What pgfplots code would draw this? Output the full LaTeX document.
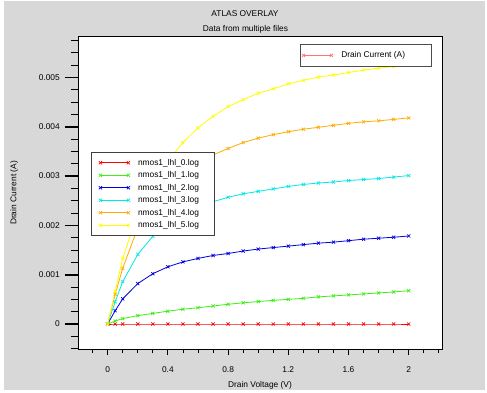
\documentclass[border=0pt]{standalone}
\usepackage{pgfplots}
\usepackage{pgfplotstable}
\pgfplotsset{compat=1.18}
\usepackage{fontspec}
\setmainfont{Liberation Sans}
\definecolor{bg}{RGB}{216,216,216}
\definecolor{cRed}{RGB}{255,0,0}
\definecolor{cGreen}{RGB}{60,240,20}
\definecolor{cBlue}{RGB}{0,0,225}
\definecolor{cCyan}{RGB}{0,232,232}
\definecolor{cOrange}{RGB}{255,172,0}
\definecolor{cYellow}{RGB}{255,252,0}

\pgfplotstableread{
x    red green    blue     cyan    orange  yellow
0    0   0        0        0       0       0
0.05 0   0.00006  0.00027  0.00045 0.00060 0.00066
0.1  0   0.00011  0.00051  0.00086 0.00113 0.00133
0.2  0   0.00017  0.00082  0.00141 0.00195 0.00225
0.3  0   0.000215 0.00102  0.00178 0.00250 0.00285
0.4  0   0.00026  0.00116  0.00205 0.00288 0.00330
0.5  0   0.00030  0.00126  0.00224 0.00313 0.00368
0.6  0   0.00033  0.00133  0.00238 0.00330 0.00398
0.7  0   0.000365 0.00139  0.00248 0.00343 0.00421
0.8  0   0.00040  0.00143  0.00257 0.00356 0.00441
0.9  0   0.00043  0.00148  0.00264 0.00368 0.00455
1.0  0   0.000455 0.00152  0.00269 0.00377 0.00468
1.1  0   0.00048  0.00155  0.00274 0.00384 0.00477
1.2  0   0.00050  0.00158  0.00279 0.00390 0.00487
1.3  0   0.00052  0.00161  0.00283 0.00395 0.00494
1.4  0   0.00055  0.00164  0.00286 0.00399 0.00501
1.5  0   0.00057  0.00166  0.00288 0.00403 0.00505
1.6  0   0.00059  0.00169  0.00291 0.00407 0.00510
1.7  0   0.00061  0.00172  0.00293 0.00410 0.00515
1.8  0   0.00063  0.00174  0.00295 0.00412 0.00519
1.9  0   0.00065  0.00176  0.00298 0.00415 0.00522
2.0  0   0.000675 0.001785 0.00301 0.00418 0.00525
}\iv

\begin{document}
\begin{tikzpicture}[x=1bp,y=1bp,font=\fontsize{8.4}{10}\selectfont]
\path[use as bounding box] (0,0) rectangle (487,392);
\fill[bg] (4,2) rectangle (485,391);
\node[anchor=base] at (245,375.7) {ATLAS OVERLAY};
\node[anchor=base] at (245.5,360.7) {Data from multiple files};

\pgfplotsset{
  myframe/.style={
    at={(78bp,43bp)}, anchor=south west, scale only axis,
    width=364bp, height=312bp,
    xmin=-0.197, xmax=2.221, ymin=-0.000507, ymax=0.005821,
    scaled x ticks=false, scaled y ticks=false,
    axis line style={black, line width=1bp},
    tick align=outside, tick pos=left,
    legend image code/.code={\draw[##1] plot coordinates {(0bp,0bp) (28bp,0bp)};},
  },
  curve/.style={line width=0.8bp, mark=x, mark size=2.2bp, mark options={solid, line width=0.7bp}},
}

\begin{axis}[
  myframe,
  axis background/.style={fill=white},
  xtick=\empty,
  ytick={0,0.001,0.002,0.003,0.004,0.005},
  yticklabels={0,0.001,0.002,0.003,0.004,0.005},
  minor ytick={-0.0005,-0.00025,0,0.00025,0.0005,0.00075,0.001,0.00125,0.0015,0.00175,0.002,0.00225,0.0025,0.00275,0.003,0.00325,0.0035,0.00375,0.004,0.00425,0.0045,0.00475,0.005,0.00525,0.0055,0.00575},
  major tick length=13bp, minor tick length=7bp,
  major tick style={black, line width=1.6bp},
  minor tick style={black, line width=0.8bp},
  yticklabel style={inner xsep=0pt, xshift=-5bp},
  ylabel={Drain Current (A)},
  ylabel style={at={(axis description cs:-0.1695,0.5)}, anchor=base},
  legend style={at={(0.0357,0.631)}, anchor=north west, draw=black!75, line width=0.8bp,
    fill=white, inner xsep=7.5bp, inner ysep=4bp, row sep=0pt,
    nodes={inner xsep=0pt, inner ysep=1.5bp, text height=7bp, text depth=2.5bp},
    /tikz/every odd column/.append style={column sep=8bp}},
  legend cell align=left,
]
\addplot[curve, cRed] table[x=x, y=red] {\iv};
\addlegendentry{\makebox[69bp][l]{nmos1\_lhl\_0.log}}
\addplot[curve, cGreen] table[x=x, y=green] {\iv};
\addlegendentry{\makebox[69bp][l]{nmos1\_lhl\_1.log}}
\addplot[curve, cBlue] table[x=x, y=blue] {\iv};
\addlegendentry{\makebox[69bp][l]{nmos1\_lhl\_2.log}}
\addplot[curve, cCyan] table[x=x, y=cyan] {\iv};
\addlegendentry{\makebox[69bp][l]{nmos1\_lhl\_3.log}}
\addplot[curve, cOrange] table[x=x, y=orange] {\iv};
\addlegendentry{\makebox[69bp][l]{nmos1\_lhl\_4.log}}
\addplot[curve, cYellow] table[x=x, y=yellow] {\iv};
\addlegendentry{\makebox[69bp][l]{nmos1\_lhl\_5.log}}
\end{axis}

\begin{axis}[
  myframe,
  ytick=\empty,
  xtick={0,0.4,0.8,1.2,1.6,2},
  xticklabels={0,0.4,0.8,1.2,1.6,2},
  minor xtick={-0.1,0,...,2.2},
  major tick length=6bp, minor tick length=4bp,
  major tick style={black, line width=0.9bp},
  minor tick style={black, line width=0.8bp},
  xticklabel style={yshift=-8bp},
  xlabel={Drain Voltage (V)},
  xlabel style={at={(axis description cs:0.5,-0.1218)}, anchor=base},
  legend style={at={(0.61,0.9776)}, anchor=north west, draw=black!70, line width=0.8bp,
    fill=white, inner xsep=1.5bp, inner ysep=4.75bp,
    nodes={inner xsep=0pt, inner ysep=1.5bp, text height=7bp, text depth=2.5bp},
    /tikz/every odd column/.append style={column sep=8.3bp}},
  legend cell align=left,
]
\addlegendimage{curve, red!55}
\addlegendentry{\makebox[89bp][l]{Drain Current (A)}}
\end{axis}
\end{tikzpicture}
\end{document}
